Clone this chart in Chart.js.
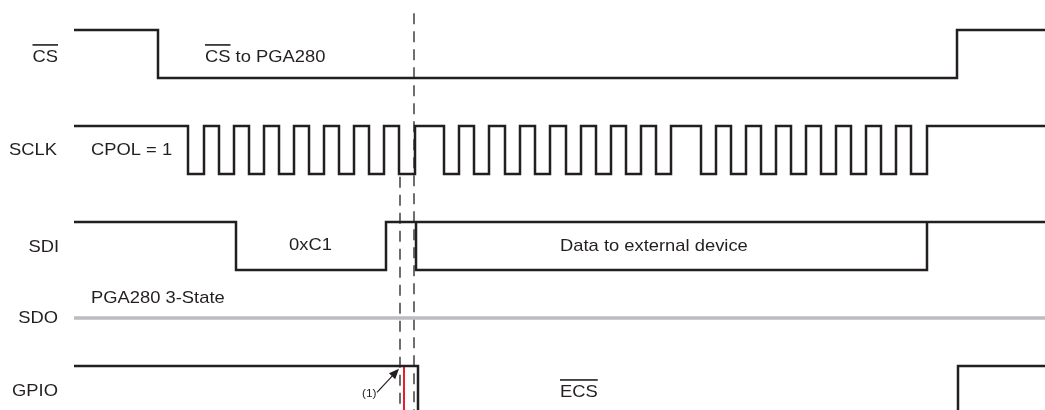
<!DOCTYPE html>
<html>
<head>
<meta charset="utf-8">
<script src="https://cdn.jsdelivr.net/npm/chart.js@4.4.0/dist/chart.umd.min.js"></script>
<style>
  html, body { margin: 0; padding: 0; background: #ffffff; }
  #wrap { width: 1045px; height: 410px; }
</style>
</head>
<body>
<div id="wrap"><canvas id="timingChart" width="1045" height="410"></canvas></div>
<script>
// time axis runs 0..1045, levels are lane units (0 = CS high ... 8 = GPIO low)
const tStart = 74;
const tEnd = 1045;

// signal levels [high, low]
const csLevels = [0, 1];
const sclkLevels = [2, 3];
const sdiLevels = [4, 5];
const sdoLevel = 6;
const gpioLevels = [7, 8];

// edge times (every entry toggles the level)
const csEdges = [158, 957];
const sclkEdges = [
  188, 204, 219, 234, 249, 264, 279, 294, 309, 324, 354 - 15, 354, 369, 384, 399, 415,
  444, 459, 474, 489, 505, 520, 535, 550, 566, 581, 596, 611, 626, 641, 656, 671,
  701, 716, 731, 746, 761, 776, 791, 806, 821, 836, 851, 866, 881, 896, 911, 927
];
const sdiEdges = [236, 386];
const sdiBusStart = 416;
const sdiBusEnd = 927;
const gpioEdges = [418, 958];

// markers
const markerMain = 414;      // long dashed line
const markerSecond = 400;    // short dashed line
const markerRed = 404;       // red line on GPIO
const markerMainTop = -0.35;
const markerSecondTop = 3.06;
const arrowTail = [377, 7.55];
const arrowTip = [399, 7.06];

function stepPoints(start, end, edges, levels, startHigh) {
  let high = startHigh;
  const pts = [{ x: start, y: high ? levels[0] : levels[1] }];
  edges.forEach(t => {
    high = !high;
    pts.push({ x: t, y: high ? levels[0] : levels[1] });
  });
  pts.push({ x: end, y: high ? levels[0] : levels[1] });
  return pts;
}

const ink = '#231f20';

function wave(data, extra) {
  return Object.assign({
    data: data,
    borderColor: ink,
    borderWidth: 2.5,
    stepped: 'before',
    fill: false,
    pointRadius: 0,
    borderJoinStyle: 'miter',
    borderCapStyle: 'butt'
  }, extra || {});
}

const datasets = [
  wave(stepPoints(tStart, tEnd, csEdges, csLevels, true)),
  wave(stepPoints(tStart, tEnd, sclkEdges, sclkLevels, true)),
  wave(stepPoints(tStart, tEnd, sdiEdges, sdiLevels, true)),
  wave([
    { x: sdiBusStart, y: sdiLevels[0] },
    { x: sdiBusStart, y: sdiLevels[1] },
    { x: sdiBusEnd, y: sdiLevels[0] }
  ]),
  wave([{ x: tStart, y: sdoLevel }, { x: tEnd, y: sdoLevel }], { borderColor: '#bdbdc1', borderWidth: 3.5, stepped: false }),
  wave(stepPoints(tStart, tEnd, gpioEdges, gpioLevels, true)),
  wave([{ x: markerMain, y: markerMainTop }, { x: markerMain, y: 8.6 }], { borderWidth: 1.3, borderDash: [11, 7], stepped: false }),
  wave([{ x: markerSecond, y: markerSecondTop }, { x: markerSecond, y: 8.6 }], { borderWidth: 1.3, borderDash: [11, 7], stepped: false }),
  wave([{ x: markerRed, y: gpioLevels[0] }, { x: markerRed, y: 8.6 }], { borderColor: '#e5202a', borderWidth: 2, stepped: false })
];

// text labels: [text, x, level, align, size, overline chars]
const labels = [
  ['CS', 58, 0.56, 'right', 17, 2],
  ['CS to PGA280', 205, 0.56, 'left', 17, 2],
  ['SCLK', 57, 2.5, 'right', 17, 0],
  ['CPOL = 1', 91, 2.5, 'left', 17, 0],
  ['SDI', 59, 4.52, 'right', 17, 0],
  ['0xC1', 289, 4.48, 'left', 17, 0],
  ['Data to external device', 560, 4.5, 'left', 17, 0],
  ['PGA280 3-State', 91, 5.6, 'left', 17, 0],
  ['SDO', 58, 6.0, 'right', 17, 0],
  ['GPIO', 58, 7.52, 'right', 17, 0],
  ['ECS', 560, 7.54, 'left', 17, 3],
  ['(1)', 362, 7.58, 'left', 11, 0]
];

const textPlugin = {
  id: 'timingText',
  afterDatasetsDraw(chart) {
    const ctx = chart.ctx;
    const xs = chart.scales.x;
    const ys = chart.scales.y;
    const stretch = 1.08;
    ctx.save();
    ctx.fillStyle = ink;
    ctx.strokeStyle = ink;
    labels.forEach(([text, x, lvl, align, size, over]) => {
      ctx.font = size + 'px "Liberation Sans", Arial, sans-serif';
      ctx.textBaseline = 'middle';
      ctx.textAlign = 'left';
      const w = ctx.measureText(text).width * stretch;
      let px = xs.getPixelForValue(x);
      if (align === 'right') px -= w;
      const py = ys.getPixelForValue(lvl);
      ctx.save();
      ctx.translate(px, py);
      ctx.scale(stretch, 1);
      ctx.fillText(text, 0, 0);
      if (over) {
        const ow = ctx.measureText(text.slice(0, over)).width;
        ctx.fillRect(0, -size * 0.75, ow, 1.6);
      }
      ctx.restore();
    });

    // arrow for note (1)
    const tx = xs.getPixelForValue(arrowTail[0]);
    const ty = ys.getPixelForValue(arrowTail[1]);
    const hx = xs.getPixelForValue(arrowTip[0]);
    const hy = ys.getPixelForValue(arrowTip[1]);
    const ang = Math.atan2(hy - ty, hx - tx);
    ctx.lineWidth = 1.2;
    ctx.beginPath();
    ctx.moveTo(tx, ty);
    ctx.lineTo(hx - Math.cos(ang) * 8, hy - Math.sin(ang) * 8);
    ctx.stroke();
    ctx.beginPath();
    ctx.moveTo(hx, hy);
    ctx.lineTo(hx - Math.cos(ang - 0.4) * 11, hy - Math.sin(ang - 0.4) * 11);
    ctx.lineTo(hx - Math.cos(ang + 0.4) * 11, hy - Math.sin(ang + 0.4) * 11);
    ctx.closePath();
    ctx.fill();
    ctx.restore();
  }
};

new Chart(document.getElementById('timingChart').getContext('2d'), {
  type: 'line',
  data: { datasets: datasets },
  options: {
    responsive: false,
    animation: false,
    layout: { padding: 0 },
    scales: {
      x: { type: 'linear', display: false, min: 0, max: 1045 },
      y: { type: 'linear', display: false, min: -0.625, max: 7.917, reverse: true }
    },
    plugins: {
      legend: { display: false },
      tooltip: { enabled: false },
      title: { display: false }
    }
  },
  plugins: [textPlugin]
});
</script>
</body>
</html>
